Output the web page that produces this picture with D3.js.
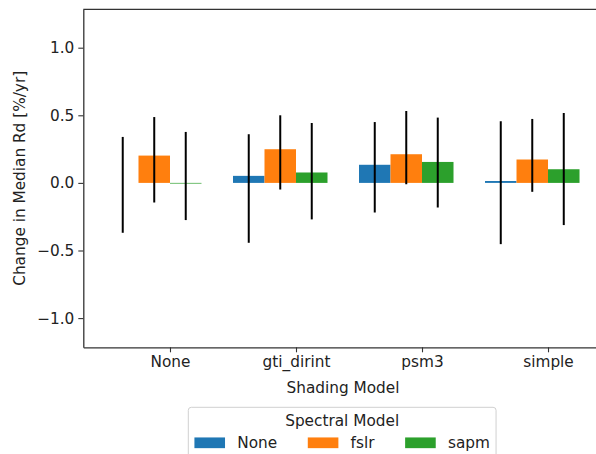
<!DOCTYPE html>
<html>
<head>
<meta charset="utf-8">
<script src="https://cdn.jsdelivr.net/npm/d3@7"></script>
<style>
	body{margin:0;background:#fff;overflow:hidden;}
	svg text{font-family:'DejaVu Sans',sans-serif;fill:#222;}
</style>
</head>
<body>
<svg id="chart" width="596" height="454"></svg>
<script>
// shading models on the x axis, spectral models as bar series
var shadingModels = ['None', 'gti_dirint', 'psm3', 'simple'];
var spectralModels = ['None', 'fslr', 'sapm'];
var seriesColors = ['#1f77b4', '#ff7f0e', '#2ca02c'];

// median change per spectral model, one value per shading model
var medNone = [0.000, 0.052, 0.134, 0.014];
var medFslr = [0.202, 0.249, 0.212, 0.173];
var medSapm = [-0.005, 0.077, 0.155, 0.101];

// error bar ends (low / high)
var lowNone = [-0.369, -0.443, -0.219, -0.453];
var highNone = [0.340, 0.360, 0.450, 0.456];
var lowFslr = [-0.145, -0.049, -0.010, -0.066];
var highFslr = [0.487, 0.500, 0.532, 0.473];
var lowSapm = [-0.275, -0.270, -0.182, -0.312];
var highSapm = [0.377, 0.443, 0.483, 0.517];

var yTicks = [-1.0, -0.5, 0.0, 0.5, 1.0];

var series = [
	{name:spectralModels[0], med:medNone, low:lowNone, high:highNone},
	{name:spectralModels[1], med:medFslr, low:lowFslr, high:highFslr},
	{name:spectralModels[2], med:medSapm, low:lowSapm, high:highSapm}
];

var fontSize = 15.3;
var barWidth = 0.25;
// right edge of the axes falls just outside the picture
var plot = {left:83.3, right:602.7, top:9.3, bottom:347.3};

var svg = d3.select('#chart');

var x = d3.scaleLinear()
	.domain([-0.688, 3.434])
	.range([plot.left, plot.right]);
var y = d3.scaleLinear()
	.domain([-1.216, 1.284])
	.range([plot.bottom, plot.top]);

//1.bars, placed edge-aligned around the tick
var g = svg.append('g');
series.forEach(function(s, j){
	var rows = shadingModels.map(function(m, i){
		return {i:i, med:s.med[i]};
	});
	g.selectAll('rect.s' + j)
		.data(rows)
		.enter()
		.append('rect')
		.attr('class', 's' + j)
		.attr('x', function(d){ return x(d.i + (j - 2) * barWidth); })
		.attr('width', x(barWidth) - x(0))
		.attr('y', function(d){ return y(Math.max(0, d.med)); })
		.attr('height', function(d){ return Math.abs(y(d.med) - y(0)); })
		.attr('fill', seriesColors[j]);
});

//2.error bars on top
series.forEach(function(s, j){
	var rows = shadingModels.map(function(m, i){
		return {i:i, low:s.low[i], high:s.high[i]};
	});
	g.selectAll('line.e' + j)
		.data(rows)
		.enter()
		.append('line')
		.attr('class', 'e' + j)
		.attr('x1', function(d){ return x(d.i + (j - 1.5) * barWidth); })
		.attr('x2', function(d){ return x(d.i + (j - 1.5) * barWidth); })
		.attr('y1', function(d){ return y(d.low); })
		.attr('y2', function(d){ return y(d.high); })
		.attr('stroke', '#000')
		.attr('stroke-width', 2);
});

//3.axes and spines
var yAxis = d3.axisLeft(y)
	.tickValues(yTicks)
	.tickSizeInner(5)
	.tickSizeOuter(0)
	.tickPadding(4)
	.tickFormat(function(d){ return d3.format('.1f')(d).replace('-', '\u2212'); });
var ya = svg.append('g')
	.attr('transform', 'translate(' + plot.left + ',0)')
	.call(yAxis);

var xAxis = d3.axisBottom(x)
	.tickValues(d3.range(shadingModels.length))
	.tickSizeInner(5)
	.tickSizeOuter(0)
	.tickPadding(4)
	.tickFormat(function(d){ return shadingModels[d]; });
var xa = svg.append('g')
	.attr('transform', 'translate(0,' + plot.bottom + ')')
	.call(xAxis);

[ya, xa].forEach(function(a){
	a.selectAll('text')
		.attr('font-size', fontSize)
		.attr('font-family', 'DejaVu Sans')
		.attr('fill', '#222');
	a.selectAll('line').attr('stroke', '#333').attr('stroke-width', 1.1);
	a.select('.domain').attr('stroke', '#333').attr('stroke-width', 1.3);
});

svg.append('line')
	.attr('x1', plot.left).attr('x2', plot.right)
	.attr('y1', plot.top).attr('y2', plot.top)
	.attr('stroke', '#333').attr('stroke-width', 1.3);

//4.axis titles
svg.append('text')
	.attr('x', (plot.left + plot.right) / 2)
	.attr('y', 388)
	.attr('dy', '0.35em')
	.attr('text-anchor', 'middle')
	.attr('font-size', fontSize)
	.text('Shading Model');
svg.append('text')
	.attr('transform', 'translate(20,' + (plot.top + plot.bottom) / 2 + ') rotate(-90)')
	.attr('dy', '0.35em')
	.attr('text-anchor', 'middle')
	.attr('font-size', fontSize)
	.text('Change in Median Rd [%/yr]');

//5.legend, columns flowed from measured text widths
var legend = svg.append('g');
var frame = legend.append('rect')
	.attr('fill', '#fff')
	.attr('fill-opacity', 0.8)
	.attr('stroke', '#d0d0d0')
	.attr('stroke-width', 1)
	.attr('rx', 3).attr('ry', 3);
var pad = 0.4 * fontSize;
var legLeft = 188.3, legTop = 407.3;
var colX = legLeft + pad;
var rowY = 442.8;
spectralModels.forEach(function(name, j){
	legend.append('rect')
		.attr('x', colX)
		.attr('y', rowY - 0.35 * fontSize)
		.attr('width', 2 * fontSize)
		.attr('height', 0.7 * fontSize)
		.attr('fill', seriesColors[j]);
	var t = legend.append('text')
		.attr('x', colX + 2.8 * fontSize)
		.attr('y', rowY)
		.attr('dy', '0.35em')
		.attr('font-size', fontSize)
		.text(name);
	colX = colX + 2.8 * fontSize + t.node().getComputedTextLength() + 2 * fontSize;
});
var legRight = colX - 2 * fontSize + pad;
frame.attr('x', legLeft)
	.attr('y', legTop)
	.attr('width', legRight - legLeft)
	.attr('height', 70);
legend.append('text')
	.attr('x', (legLeft + legRight) / 2)
	.attr('y', 420.5)
	.attr('dy', '0.35em')
	.attr('text-anchor', 'middle')
	.attr('font-size', fontSize)
	.text('Spectral Model');
</script>
</body>
</html>
